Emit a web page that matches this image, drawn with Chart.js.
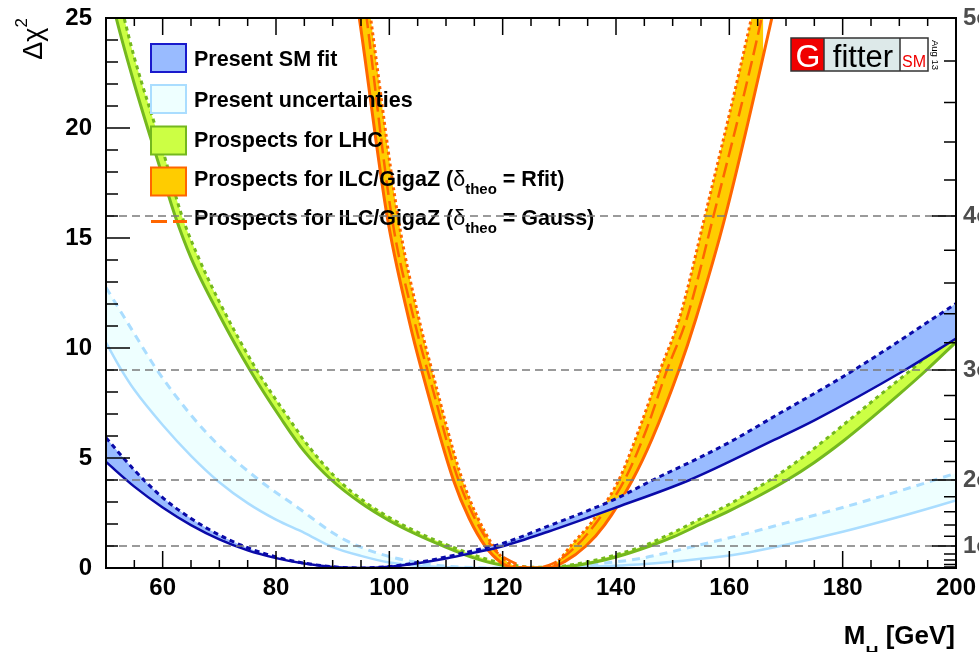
<!DOCTYPE html>
<html>
<head>
<meta charset="utf-8">
<script src="https://cdn.jsdelivr.net/npm/chart.js@4.4.1/dist/chart.umd.min.js"></script>
<style>
  html, body { margin: 0; padding: 0; background: #fff; }
  #wrap { position: relative; width: 979px; height: 652px; }
</style>
</head>
<body>
<div id="wrap"><canvas id="chart" width="979" height="652"></canvas></div>
<script>
"use strict";

// values: M_H in GeV, delta chi2
const smFitLowMH = [50, 55, 60, 65, 70, 75, 80, 85, 90, 95, 100, 105, 110, 115, 120, 128, 140, 153, 168, 175, 191, 200];
const smFitLowChi2 = [4.82, 3.7, 2.75, 1.95, 1.3, 0.8, 0.45, 0.2, 0.05, 0.0, 0.06, 0.22, 0.43, 0.7, 0.99, 1.65, 2.75, 4.0, 5.83, 6.71, 9.0, 10.43];
const smFitHighMH = [50, 55, 60, 65, 70, 75, 80, 85, 90, 95, 100, 105, 110, 115, 120, 128, 140, 146.5, 155, 161, 167, 182, 200];
const smFitHighChi2 = [5.92, 4.45, 3.2, 2.25, 1.5, 0.92, 0.5, 0.22, 0.06, 0.0, 0.07, 0.25, 0.5, 0.8, 1.12, 1.9, 3.15, 4.0, 5.05, 5.85, 6.75, 9.0, 12.02];

const presUncLowMH = [50, 52.5, 55, 60, 65, 70, 75, 80, 85, 90, 95, 100, 105, 110, 115, 125, 132, 144, 155, 162, 169, 180, 190, 200];
const presUncLowChi2 = [10.25, 9.1, 8.1, 6.5, 5.1, 3.9, 2.95, 2.2, 1.6, 0.95, 0.55, 0.25, 0.1, 0.03, 0.0, 0.0, 0.04, 0.16, 0.42, 0.65, 1.0, 1.65, 2.33, 3.07];
const presUncHighMH = [50, 55, 59, 65, 70, 77, 84, 90, 94, 100, 105, 110, 116, 122, 130, 137, 144, 154, 162, 170, 180, 190, 200];
const presUncHighChi2 = [12.75, 10.65, 9.0, 6.95, 5.55, 4.0, 2.72, 1.6, 1.05, 0.52, 0.25, 0.08, 0.01, 0.0, 0.05, 0.2, 0.42, 1.0, 1.5, 2.05, 2.75, 3.5, 4.31];

const lhcLowMH = [50, 51.8, 55, 60, 62.2, 65, 70, 75.4, 81, 85, 89.8, 95, 100, 105, 109, 115, 120, 126, 130, 135, 140, 146, 150, 155, 160, 165, 170.2, 175, 180, 185, 190, 194.8, 200];
const lhcLowChi2 = [27.0, 25.0, 22.0, 17.8, 16.0, 14.1, 11.5, 9.0, 6.75, 5.3, 4.0, 2.95, 2.15, 1.5, 1.05, 0.45, 0.12, 0.0, 0.03, 0.2, 0.5, 1.0, 1.4, 2.0, 2.6, 3.25, 4.0, 4.8, 5.75, 6.8, 7.9, 9.0, 10.27];
const lhcHighMH = [50, 53.2, 55, 60, 63.4, 66, 70, 76.6, 82.5, 86, 91, 96, 101, 106, 110.7, 115, 120, 126, 130, 135, 140, 144.8, 150, 155, 160, 164, 167.8, 172, 177, 182, 187, 192.5, 200];
const lhcHighChi2 = [28.5, 25.0, 23.2, 19.0, 16.0, 14.3, 12.1, 9.0, 6.71, 5.45, 4.0, 2.95, 2.15, 1.5, 1.0, 0.58, 0.22, 0.03, 0.07, 0.28, 0.6, 1.0, 1.6, 2.25, 2.9, 3.5, 4.1, 4.85, 5.85, 6.9, 7.95, 9.1, 10.84];

const ilcRfitLowMH = [92.7, 94.7, 99.6, 103.4, 105.7, 111.3, 114.1, 116.9, 119.7, 121.5, 122.5, 128, 131, 134.7, 138, 142.9, 146.3, 151.1, 154.1, 159.3, 167.5, 170];
const ilcRfitLowChi2 = [28.3, 25.0, 16.0, 11.35, 9.0, 4.0, 2.25, 1.0, 0.25, 0.03, 0.0, 0.0, 0.3, 1.0, 1.96, 4.0, 5.83, 9.0, 11.33, 16.0, 25.0, 28.0];
const ilcRfitHighMH = [94.5, 96.7, 101.5, 105.2, 107.5, 112.9, 118.3, 121, 123.5, 127, 129.5, 132, 136.2, 140.5, 144, 147.8, 151.2, 155.7, 163.9, 166];
const ilcRfitHighChi2 = [29.2, 25.0, 16.0, 11.35, 9.0, 4.0, 1.0, 0.25, 0.0, 0.0, 0.25, 1.0, 2.25, 4.0, 6.25, 9.0, 11.35, 16.0, 25.0, 27.6];
const ilcGaussMH = [94, 96, 100.4, 104.3, 107.8, 112.2, 118, 121.5, 125.5, 129, 133, 137.2, 141.5, 145.3, 149, 152.5, 157.2, 165.7, 168];
const ilcGaussChi2 = [29.0, 25.0, 16.0, 11.35, 8.0, 4.0, 1.0, 0.3, 0.0, 0.22, 1.0, 2.3, 4.0, 6.25, 9.0, 11.35, 16.0, 25.0, 28.0];

// sigma levels on the right axis (chi2 = n^2)
const sigmaLevels = [1, 2, 3, 4, 5];

const FONT = '"Liberation Sans", Arial, Helvetica, sans-serif';

const pts = (mh, chi2) => mh.map((m, i) => ({ x: m, y: chi2[i] }));

function curve(data, color, width, dash, extra) {
  return Object.assign({
    data: data,
    borderColor: color,
    borderWidth: width,
    borderDash: dash,
    pointRadius: 0,
    fill: false,
    cubicInterpolationMode: "monotone",
    clip: 0,
  }, extra);
}

const BLUE = "#0a0aa8";
const LIGHTBLUE = "#aaddff";
const GREEN = "#74b81e";
const ORANGE = "#ff6600";

// legend rows (boxes and text drawn by the plugin)
const legendRows = [
  { parts: [{ t: "Present SM fit" }], fill: "#99bbff", stroke: "#1a1acc" },
  { parts: [{ t: "Present uncertainties" }], fill: "#eeffff", stroke: LIGHTBLUE },
  { parts: [{ t: "Prospects for LHC" }], fill: "#ccff44", stroke: GREEN },
  { parts: [{ t: "Prospects for ILC/GigaZ (" }, { t: "\u03b4", w: "normal" }, { t: "theo", sub: true }, { t: " = Rfit)" }], fill: "#ffcc00", stroke: ORANGE },
  { parts: [{ t: "Prospects for ILC/GigaZ (" }, { t: "\u03b4", w: "normal" }, { t: "theo", sub: true }, { t: " = Gauss)" }], line: ORANGE },
];
const legendBoxCy = [58, 99, 140.5, 181.5, 221.5];
const legendBase = [66, 107, 147, 186, 225];

function drawParts(ctx, parts, x, y, size, weight) {
  for (const p of parts) {
    const s = p.sub ? Math.round(size * 0.7) : size;
    ctx.font = (p.w || weight) + " " + s + "px " + FONT;
    ctx.fillText(p.t, x, p.sub ? y + size * 0.36 : y);
    x += ctx.measureText(p.t).width;
  }
  return x;
}

const decorPlugin = {
  id: "decor",
  afterDatasetsDraw(chart) {
    const { ctx, chartArea: a, scales } = chart;
    ctx.save();

    // LEGEND
    legendRows.forEach((row, i) => {
      const cy = legendBoxCy[i];
      if (row.line) {
        ctx.strokeStyle = row.line;
        ctx.lineWidth = 3;
        ctx.setLineDash([16, 6]);
        ctx.beginPath();
        ctx.moveTo(151, cy);
        ctx.lineTo(187, cy);
        ctx.stroke();
        ctx.setLineDash([]);
      } else {
        ctx.fillStyle = row.fill;
        ctx.fillRect(151, cy - 14, 35, 28);
        ctx.strokeStyle = row.stroke;
        ctx.lineWidth = 2;
        ctx.strokeRect(151, cy - 14, 35, 28);
      }
      ctx.fillStyle = "#000";
      ctx.textAlign = "left";
      ctx.textBaseline = "alphabetic";
      drawParts(ctx, row.parts, 194, legendBase[i], 21.5, "bold");
    });

    // dashed sigma lines
    const y = scales.y;
    ctx.strokeStyle = "#7a7a7a";
    ctx.lineWidth = 1.5;
    ctx.setLineDash([8, 5]);
    sigmaLevels.slice(0, -1).forEach((s) => {
      const py = y.getPixelForValue(s * s);
      ctx.beginPath();
      ctx.moveTo(a.left, py);
      ctx.lineTo(a.right, py);
      ctx.stroke();
    });
    ctx.setLineDash([]);

    // FRAME AND TICKS (inside, ROOT style)
    ctx.strokeStyle = "#000";
    ctx.lineWidth = 2;
    ctx.strokeRect(a.left, a.top, a.right - a.left, a.bottom - a.top);
    ctx.lineWidth = 1.5;
    ctx.beginPath();
    scales.x.ticks.forEach((t) => {
      const px = scales.x.getPixelForValue(t.value);
      const len = t.value % 20 === 0 ? 17 : 8;
      ctx.moveTo(px, a.bottom);
      ctx.lineTo(px, a.bottom - len);
      ctx.moveTo(px, a.top);
      ctx.lineTo(px, a.top + len);
    });
    y.ticks.forEach((t) => {
      const py = y.getPixelForValue(t.value);
      const len = t.value % 5 === 0 ? 24 : 12;
      ctx.moveTo(a.left, py);
      ctx.lineTo(a.left + len, py);
    });
    scales.y2.ticks.forEach((t) => {
      const py = scales.y2.getPixelForValue(t.value);
      const s = Math.sqrt(t.value);
      const len = Math.abs(s - Math.round(s)) < 1e-6 ? 24 : 12;
      ctx.moveTo(a.right, py);
      ctx.lineTo(a.right - len, py);
    });
    ctx.stroke();

    // GFITTER LOGO
    ctx.fillStyle = "#f00000";
    ctx.fillRect(791, 38, 33, 33);
    ctx.fillStyle = "#dde9e9";
    ctx.fillRect(824, 38, 76, 33);
    ctx.fillStyle = "#fff";
    ctx.fillRect(900, 38, 28, 33);
    ctx.strokeStyle = "#333";
    ctx.lineWidth = 1.5;
    ctx.strokeRect(791, 38, 137, 33);
    ctx.beginPath();
    ctx.moveTo(824, 38); ctx.lineTo(824, 71);
    ctx.moveTo(900, 38); ctx.lineTo(900, 71);
    ctx.stroke();
    ctx.textAlign = "center";
    ctx.fillStyle = "#fff";
    ctx.font = "32px " + FONT;
    ctx.fillText("G", 808, 67);
    ctx.fillStyle = "#000";
    ctx.font = "31px " + FONT;
    ctx.fillText("fitter", 863, 66.5);
    ctx.fillStyle = "#f00000";
    ctx.font = "16px " + FONT;
    ctx.fillText("SM", 914, 67);
    ctx.save();
    ctx.translate(932, 40);
    ctx.rotate(Math.PI / 2);
    ctx.textAlign = "left";
    ctx.fillStyle = "#000";
    ctx.font = "9.5px " + FONT;
    ctx.fillText("Aug 13", 0, 0);
    ctx.restore();

    // AXIS TITLES
    ctx.fillStyle = "#000";
    ctx.textAlign = "left";
    ctx.font = "bold 26px " + FONT;
    const wM = ctx.measureText("M").width;
    const wG = ctx.measureText(" [GeV]").width;
    ctx.font = "bold 18px " + FONT;
    const wH = ctx.measureText("H").width;
    let xx = 955 - wM - wH - wG;
    ctx.font = "bold 26px " + FONT;
    ctx.fillText("M", xx, 644);
    ctx.fillText(" [GeV]", xx + wM + wH, 644);
    ctx.font = "bold 18px " + FONT;
    ctx.fillText("H", xx + wM, 659);

    ctx.save();
    ctx.font = "27px " + FONT;
    const wDc = ctx.measureText("\u0394\u03c7").width;
    ctx.font = "17px " + FONT;
    const w2 = ctx.measureText("2").width;
    ctx.translate(42, 18 + wDc + w2);
    ctx.rotate(-Math.PI / 2);
    ctx.font = "27px " + FONT;
    ctx.fillText("\u0394\u03c7", 0, 0);
    ctx.font = "17px " + FONT;
    ctx.fillText("2", wDc, -15);
    ctx.restore();

    ctx.restore();
  },
};

const tickFont = { family: FONT, size: 24, weight: "bold" };

// fixed frame: plot area 106..956 x 18..568
function noPad(s) {
  s.paddingTop = 0;
  s.paddingBottom = 0;
  s.paddingLeft = 0;
  s.paddingRight = 0;
}

const ctx = document.getElementById("chart").getContext("2d");
const myChart = new Chart(ctx, {
  type: "line",
  data: {
    datasets: [
      curve(pts(smFitLowMH, smFitLowChi2), BLUE, 2.5, [], { order: 1 }),
      curve(pts(smFitHighMH, smFitHighChi2), BLUE, 3, [5, 4], { order: 2, fill: "-1", backgroundColor: "#99bbff" }),
      curve(pts(presUncLowMH, presUncLowChi2), LIGHTBLUE, 2.5, [], { order: 9 }),
      curve(pts(presUncHighMH, presUncHighChi2), LIGHTBLUE, 3, [8, 6], { order: 10, fill: "-1", backgroundColor: "#eeffff" }),
      curve(pts(lhcLowMH, lhcLowChi2), GREEN, 3, [], { order: 7 }),
      curve(pts(lhcHighMH, lhcHighChi2), GREEN, 3, [4, 4], { order: 8, fill: "-1", backgroundColor: "#ccff44" }),
      curve(pts(ilcRfitLowMH, ilcRfitLowChi2), ORANGE, 3, [], { order: 5 }),
      curve(pts(ilcRfitHighMH, ilcRfitHighChi2), ORANGE, 3, [3, 3], { order: 6, fill: "-1", backgroundColor: "#ffcc00" }),
      curve(pts(ilcGaussMH, ilcGaussChi2), ORANGE, 2.5, [15, 6], { order: 4 }),
    ],
  },
  options: {
    responsive: false,
    animation: false,
    devicePixelRatio: 1,
    layout: { padding: { top: 18, left: 0, right: 0, bottom: 0 } },
    plugins: { legend: { display: false }, tooltip: { enabled: false } },
    scales: {
      x: {
        type: "linear",
        position: "bottom",
        min: 50,
        max: 200,
        grid: { display: false, drawTicks: false },
        border: { display: false },
        ticks: {
          stepSize: 5,
          autoSkip: false,
          maxRotation: 0,
          padding: 6,
          color: "#000",
          font: tickFont,
          callback: (v) => (v % 20 === 0 ? v : ""),
        },
        afterFit: (s) => { s.height = 84; noPad(s); },
      },
      y: {
        type: "linear",
        position: "left",
        min: 0,
        max: 25,
        grid: { display: false, drawTicks: false },
        border: { display: false },
        ticks: {
          stepSize: 1,
          autoSkip: false,
          padding: 14,
          color: "#000",
          font: tickFont,
          callback: (v) => (v % 5 === 0 ? v : ""),
        },
        afterFit: (s) => { s.width = 106; noPad(s); },
      },
      y2: {
        type: "linear",
        position: "right",
        min: 0,
        max: 25,
        grid: { display: false, drawTicks: false },
        border: { display: false },
        afterBuildTicks: (s) => {
          const t = [];
          for (let k = 1; k <= 25; k++) t.push({ value: (k * 0.2) * (k * 0.2) });
          s.ticks = t;
        },
        ticks: {
          autoSkip: false,
          padding: 7,
          color: "#4d4d4d",
          font: tickFont,
          callback: (v) => {
            const s = Math.sqrt(v);
            return Math.abs(s - Math.round(s)) < 1e-6 ? Math.round(s) + "\u03c3" : "";
          },
        },
        afterFit: (s) => { s.width = 23; noPad(s); },
      },
    },
  },
  plugins: [decorPlugin],
});
</script>
</body>
</html>
